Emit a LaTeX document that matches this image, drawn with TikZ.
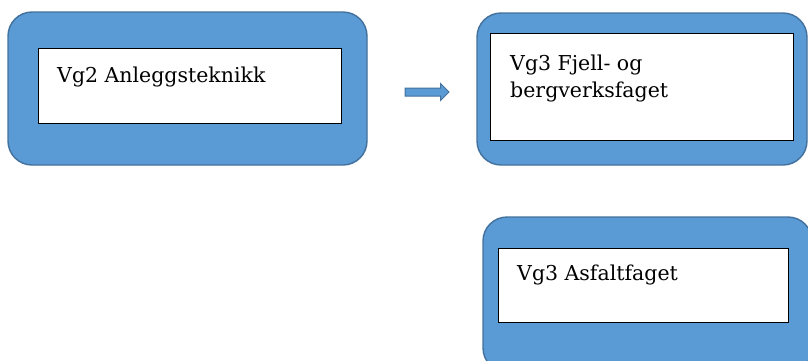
\documentclass[tikz,border=0pt]{standalone}
\usepackage{fontspec}
\setmainfont{DejaVu Serif}
\usetikzlibrary{shapes.arrows}

\definecolor{boxblue}{HTML}{5B9BD5}
\definecolor{boxline}{HTML}{41719C}

\tikzset{
  outerbox/.style={draw=boxline, line width=1.4pt, fill=boxblue, rounded corners=24pt, inner sep=0pt},
  innerbox/.style={draw=black, line width=0.8pt, fill=white, inner sep=0pt},
  label/.style={inner sep=0pt, font=\fontsize{20.5}{27}\selectfont, align=left},
}

\begin{document}
\begin{tikzpicture}[x=1pt, y=-1pt]

        \useasboundingbox (0,0) rectangle (808,360);
        \clip (0,0) rectangle (808,360);

        \begin{scope}[every node/.style={outerbox}]
          \node[minimum width=359pt, minimum height=153pt] (o1) at (187.5,88.5) {};
          \node[minimum width=330pt, minimum height=152pt] (o2) at (642,89) {};
          \node[minimum width=329pt, minimum height=155pt] (o3) at (647.5,294.5) {};
        \end{scope}

        \begin{scope}[every node/.style={innerbox}]
          \node[minimum width=303pt, minimum height=75pt]  (i1) at (189.5,85.5) {};
          \node[minimum width=303pt, minimum height=107pt] (i2) at (641.5,86.5) {};
          \node[minimum width=290pt, minimum height=74pt]  (i3) at (643,285) {};
        \end{scope}

        \begin{scope}[every node/.style={label, anchor=base west}]
          \node (t1) at (57,82)  {Vg2 Anleggsteknikk};
          \node (t2) at (510,97) {Vg3 Fjell- og\\bergverksfaget};
          \node (t3) at (517,280) {Vg3 Asfaltfaget};
        \end{scope}

        \node[single arrow, draw=boxline, fill=boxblue, line width=1pt,
              minimum height=44pt, inner sep=3.5pt,
              single arrow head extend=4.5pt] (arrow) at (425,92) {};

      \end{tikzpicture}
\end{document}
